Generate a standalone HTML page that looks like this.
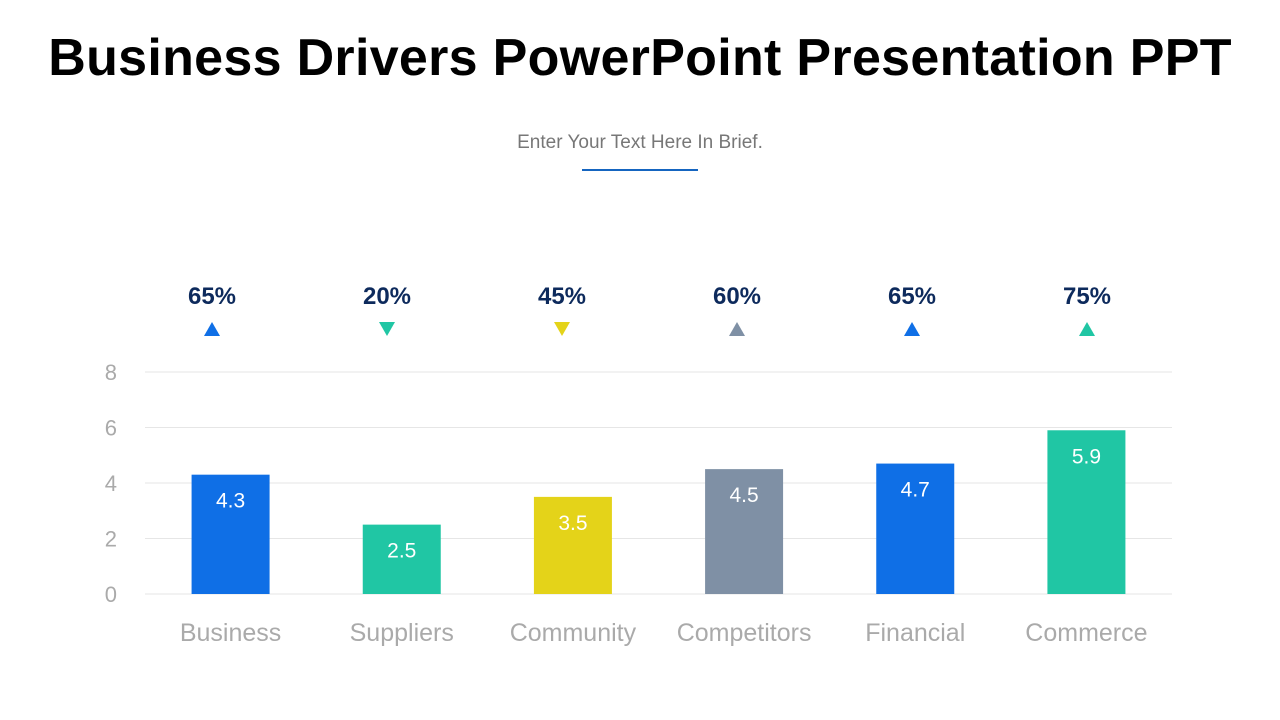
<!DOCTYPE html>
<html><head><meta charset="utf-8"><style>
body{margin:0;width:1280px;height:720px;background:#fff;overflow:hidden;font-family:"Liberation Sans",sans-serif}
h1{position:absolute;top:28px;left:0;width:1280px;margin:0;text-align:center;font-size:52px;font-weight:bold;color:#000;letter-spacing:0.3px}
#sub{position:absolute;top:132px;left:0;width:1280px;text-align:center;font-size:19px;color:#777}
#line{position:absolute;left:582px;top:169px;width:116px;height:2px;background:#1565c0}
</style></head><body>
<h1>Business Drivers PowerPoint Presentation PPT</h1>
<div id="sub">Enter Your Text Here In Brief.</div>
<div id="line"></div>
<svg id="chart" width="1280" height="720" style="position:absolute;left:0;top:0"></svg>
<script>
const categories=["Business","Suppliers","Community","Competitors","Financial","Commerce"];
const values=[4.3,2.5,3.5,4.5,4.7,5.9];
const percents=["65%","20%","45%","60%","65%","75%"];
const directions=["up","down","down","up","up","up"];
const colors=["#0f6fe6","#20c6a4","#e4d319","#7f90a5","#0f6fe6","#20c6a4"];
const ticks=[0,2,4,6,8];
const svg=document.getElementById('chart');const NS="http://www.w3.org/2000/svg";
const x0=145,x1=1172,y0=594,yTop=372,maxV=8;
const y=v=>y0-(y0-yTop)*v/maxV;
const band=(x1-x0)/categories.length;
const cx=i=>x0+band*(i+0.5);
const px=i=>212+175*i;
function mk(t,a,txt){const e=document.createElementNS(NS,t);for(const k in a)e.setAttribute(k,a[k]);if(txt!=null)e.textContent=txt;svg.appendChild(e);return e;}
ticks.forEach(t=>{
 const g=mk('line',{x1:x0,x2:x1,y1:y(t),y2:y(t),stroke:'#e6e6e6','stroke-width':1});
 
 
 const l=mk('text',{x:117,y:y(t)+8,'text-anchor':'end','font-size':22,fill:'#aaa'},t);
 
 
});
categories.forEach((c,i)=>{
 const x=cx(i),bw=78;
 const r=mk('rect',{x:x-bw/2,y:y(values[i]),width:bw,height:y0-y(values[i]),fill:colors[i]});
 
 
 const v=mk('text',{x:x,y:y(values[i])+33,'text-anchor':'middle','font-size':21,fill:'#fff'},values[i]);
 
 
 const cl=mk('text',{x:x,y:641,'text-anchor':'middle','font-size':25,fill:'#aaa'},c);
 
 
 const p=mk('text',{x:px(i),y:304,'text-anchor':'middle','font-size':24,'font-weight':'bold',fill:'#0d2a5c'},percents[i]);
 
 
 const tx=px(i),ty=329;
 const pts=directions[i]=="up"?`${tx-8},${ty+7} ${tx+8},${ty+7} ${tx},${ty-7}`:`${tx-8},${ty-7} ${tx+8},${ty-7} ${tx},${ty+7}`;
 const tri=mk('polygon',{points:pts,fill:colors[i]});
 
 
});
</script>
</body></html>
